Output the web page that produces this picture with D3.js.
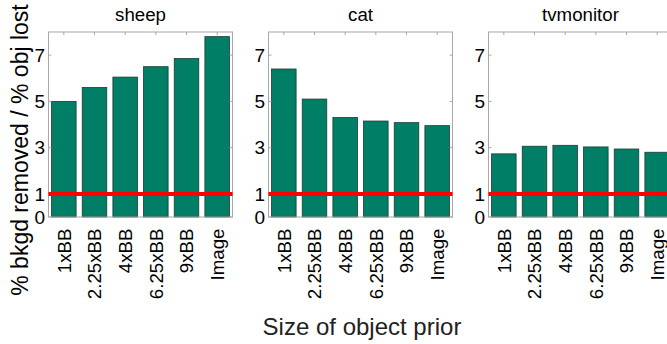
<!DOCTYPE html>
<html><head><meta charset="utf-8">
<script src="https://cdn.jsdelivr.net/npm/d3@7"></script>
<style>
html,body{margin:0;padding:0;background:#fff;}
text{font-family:"Liberation Sans",Arial,Helvetica,sans-serif;fill:#000;}
</style></head>
<body>
<svg id="chart" width="667" height="344"></svg>
<script>
const categories = ["1xBB","2.25xBB","4xBB","6.25xBB","9xBB","Image"];
const panelTitles = ["sheep","cat","tvmonitor"];
const sheepValues = [5.0, 5.6, 6.05, 6.5, 6.85, 7.8];
const catValues = [6.4, 5.1, 4.3, 4.15, 4.08, 3.95];
const tvmonitorValues = [2.73, 3.06, 3.1, 3.03, 2.94, 2.8];
const yTicks = [0, 1, 3, 5, 7];
const yDomain = [0, 8];
const referenceValue = 1;
const xLabel = "Size of object prior";
const yLabel = "% bkgd removed / % obj lost";

const seriesList = [sheepValues, catValues, tvmonitorValues];
const svg = d3.select("#chart");

const panelLefts = [48.5, 268.5, 488.5];
const panelW = 184, plotTop = 32, plotBottom = 217;
const frameColor = "#a8a8a8";
const barColor = "#007f66";

const y = d3.scaleLinear().domain(yDomain).range([plotBottom, plotTop]);

panelTitles.forEach((title, i) => {
  const x0 = panelLefts[i];
  const x = d3.scaleBand().domain(categories).range([x0, x0 + panelW])
    .paddingInner(0.2).paddingOuter(0.1);
  const g = svg.append("g");
  const vals = seriesList[i];

  g.selectAll("rect.bar").data(categories).join("rect")
    .attr("class","bar")
    .attr("x", d => x(d))
    .attr("width", x.bandwidth())
    .attr("y", (d,j) => y(vals[j]))
    .attr("height", (d,j) => y(0) - y(vals[j]))
    .attr("fill", barColor)
    .attr("stroke", "#1a3a33")
    .attr("stroke-width", 0.8);

  g.append("rect").attr("x", x0).attr("y", plotTop).attr("width", panelW).attr("height", plotBottom - plotTop)
    .attr("fill","none").attr("stroke", frameColor).attr("stroke-width", 1);

  g.selectAll("line.tt").data(categories).join("line")
    .attr("x1", d => x(d) + x.bandwidth()/2).attr("x2", d => x(d) + x.bandwidth()/2)
    .attr("y1", plotTop).attr("y2", plotTop + 3)
    .attr("stroke", frameColor);

  g.selectAll("line.yl").data(yTicks).join("line")
    .attr("x1", x0).attr("x2", x0 + 3)
    .attr("y1", d => y(d)).attr("y2", d => y(d)).attr("stroke", frameColor);
  g.selectAll("line.yr").data(yTicks).join("line")
    .attr("x1", x0 + panelW - 3).attr("x2", x0 + panelW)
    .attr("y1", d => y(d)).attr("y2", d => y(d)).attr("stroke", frameColor);

  g.append("line").attr("x1", x0).attr("x2", x0 + panelW)
    .attr("y1", y(referenceValue)).attr("y2", y(referenceValue))
    .attr("stroke", "#ff0000").attr("stroke-width", 4);

  g.selectAll("text.yt").data(yTicks).join("text")
    .attr("x", x0 - 3.5).attr("y", d => y(d)).attr("dy","0.36em")
    .attr("text-anchor","end").style("font-size","19px").text(d => d);

  g.selectAll("text.xt").data(categories).join("text")
    .attr("transform", d => `translate(${x(d) + x.bandwidth()/2},228.5) rotate(-90)`)
    .attr("dy","0.36em").attr("text-anchor","end").style("font-size","18.7px").text(d => d);

  g.append("text").attr("x", x0 + panelW/2).attr("y", 21).attr("text-anchor","middle")
    .style("font-size","18.7px").text(title);
});

svg.append("text").attr("x", 362).attr("y", 335).attr("text-anchor","middle")
  .style("font-size","24px").style("fill","#222").text(xLabel);
svg.append("text").attr("transform","translate(28,150) rotate(-90)").attr("text-anchor","middle")
  .style("font-size","23px").text(yLabel);
</script>
</body></html>
